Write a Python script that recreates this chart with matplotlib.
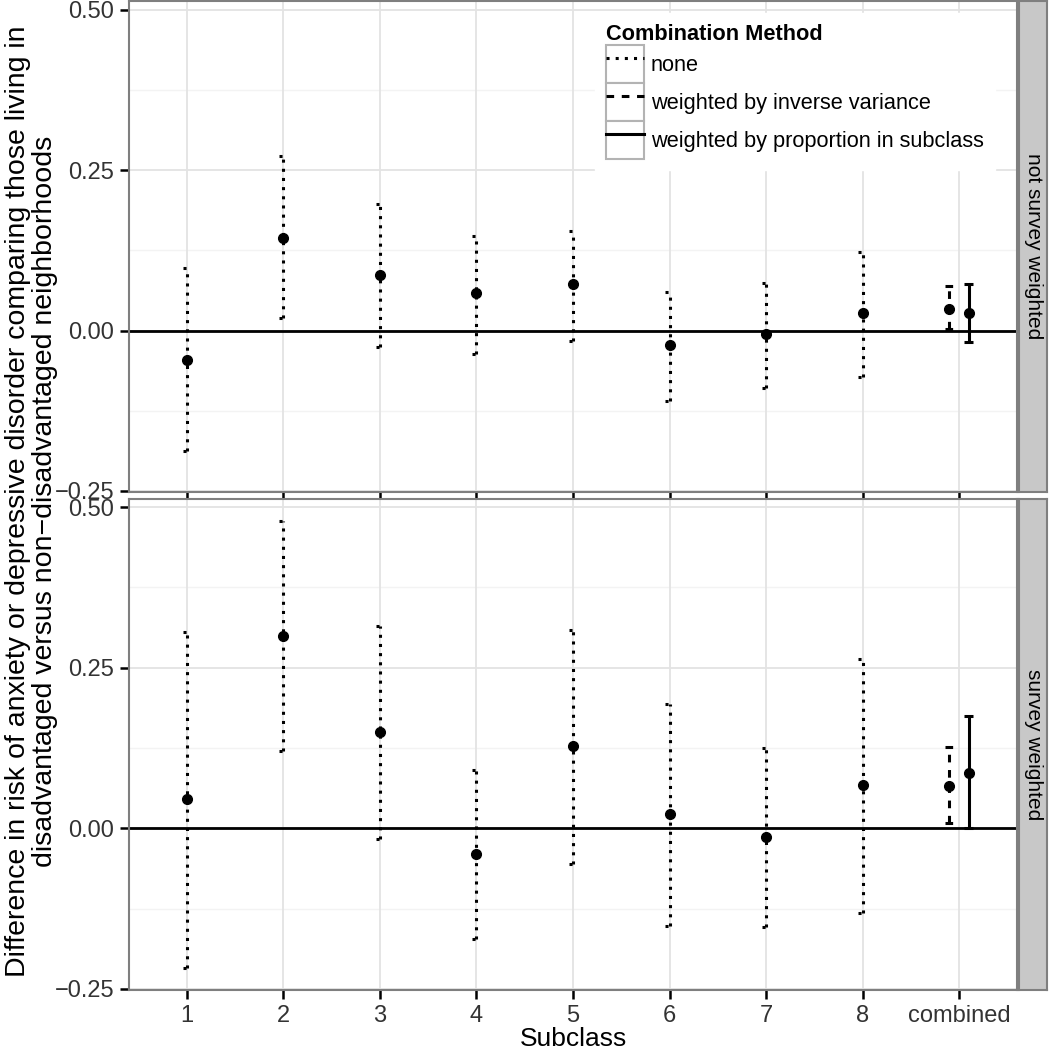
import matplotlib
matplotlib.use("Agg")
import matplotlib.pyplot as plt
from matplotlib.lines import Line2D
from matplotlib.patches import Rectangle
import numpy as np

plt.rcParams['font.family'] = ['Liberation Sans', 'DejaVu Sans']

# categories on the x axis
subclasses = ['1', '2', '3', '4', '5', '6', '7', '8', 'combined']
panels = ['not survey weighted', 'survey weighted']

# per-subclass estimates (no combination), one list per panel
est_none = [[-0.045, 0.144, 0.086, 0.058, 0.072, -0.022, -0.006, 0.027],
            [0.045, 0.300, 0.150, -0.040, 0.128, 0.022, -0.014, 0.067]]
lo_none = [[-0.187, 0.019, -0.025, -0.036, -0.016, -0.109, -0.089, -0.072],
           [-0.218, 0.120, -0.016, -0.172, -0.055, -0.152, -0.154, -0.131]]
hi_none = [[0.097, 0.273, 0.198, 0.148, 0.156, 0.061, 0.075, 0.122],
           [0.306, 0.479, 0.315, 0.090, 0.309, 0.193, 0.125, 0.264]]

# combined estimates
est_ivar = [0.033, 0.066]
lo_ivar = [0.002, 0.008]
hi_ivar = [0.070, 0.126]
est_prop = [0.027, 0.086]
lo_prop = [-0.017, 0.000]
hi_prop = [0.072, 0.175]

methods = ['none', 'weighted by inverse variance', 'weighted by proportion in subclass']
styles = [(0, (1, 2)), (0, (2.5, 2.5)), '-']

yticks = [-0.25, 0.0, 0.25, 0.50]
ylabels = ['\u22120.25', '0.00', '0.25', '0.50']

fig = plt.figure(figsize=(10.5, 10.49), dpi=100)
W, H = 1050, 1049
left, right = 129 / W, 1017 / W
boxes = [(1, 492), (499, 990)]

lw = 2.2
capw = 0.09

def draw_bar(ax, x, est, lo, hi, ls):
    ax.vlines(x, lo, hi, colors='black', linestyles=ls, lw=lw, zorder=3)
    ax.hlines([lo, hi], x - capw / 2, x + capw / 2, colors='black', linestyles=ls, lw=lw, zorder=3)
    ax.plot(x, est, 'o', color='black', ms=7, zorder=4)

axes = []
for p in range(2):
    top_px, bot_px = boxes[p]
    ax = fig.add_axes([left, 1 - bot_px / H, right - left, (bot_px - top_px) / H])
    axes.append(ax)
    xs = np.arange(1, len(subclasses) + 1)
    ax.set_xlim(0.4, 9.6)
    if p == 0:
        ax.set_ylim(-0.2516, 0.514)
    else:
        ax.set_ylim(-0.2516, 0.5125)

    # grid
    for yv in [-0.125, 0.125, 0.375]:
        ax.axhline(yv, color='#f3f3f3', lw=1.0, zorder=0)
    for yv in yticks:
        ax.axhline(yv, color='#e3e3e3', lw=1.3, zorder=0)
    for xv in xs:
        ax.axvline(xv, color='#e3e3e3', lw=1.3, zorder=0)

    ax.axhline(0, color='black', lw=2.0, zorder=2)

    for i in range(8):
        draw_bar(ax, xs[i], est_none[p][i], lo_none[p][i], hi_none[p][i], styles[0])
    draw_bar(ax, xs[8] - 0.1, est_ivar[p], lo_ivar[p], hi_ivar[p], styles[1])
    draw_bar(ax, xs[8] + 0.1, est_prop[p], lo_prop[p], hi_prop[p], styles[2])

    ax.set_yticks(yticks)
    ax.set_yticklabels(ylabels, fontsize=17, color='#333333')
    ax.set_xticks(xs)
    if p == 1:
        ax.set_xticklabels(subclasses, fontsize=17, color='#333333')
    else:
        ax.set_xticklabels([])
        ax.tick_params(axis='x', length=0)
    ax.tick_params(axis='both', direction='out', length=6.5, width=1.8, color='black', pad=4)
    for s in ax.spines.values():
        s.set_color('#7f7f7f')
        s.set_linewidth(1.5)

    # facet strip on the right
    sax = fig.add_axes([1019 / W, 1 - bot_px / H, 28 / W, (bot_px - top_px) / H])
    sax.set_xticks([])
    sax.set_yticks([])
    sax.set_facecolor('#c8c8c8')
    for s in sax.spines.values():
        s.set_color('#7f7f7f')
        s.set_linewidth(1.5)
    sax.text(0.5, 0.5, panels[p], rotation=-90, ha='center', va='center',
             fontsize=15, transform=sax.transAxes)

axes[1].set_xlabel('Subclass', fontsize=19, labelpad=0)
fig.text(0.03, 0.522,
         'Difference in risk of anxiety or depressive disorder comparing those living in\n'
         'disadvantaged versus non\u2212disadvantaged neighborhoods',
         rotation=90, ha='center', va='center', fontsize=20.5, linespacing=1.05)

# legend keys: grey-bordered box with the line style inside
handles = []
for s in styles:
    box = Rectangle((0, 0), 1, 1, facecolor='white', edgecolor='#b3b3b3', lw=1.5)
    line = Line2D([0], [0], color='black', lw=lw, linestyle=s)
    handles.append((box, line))
leg = axes[0].legend(handles, methods, title='Combination Method', loc='upper right',
                     bbox_to_anchor=(0.975, 0.975), borderaxespad=0,
                     fontsize=15.7, title_fontsize=15.7,
                     frameon=True, fancybox=False, handlelength=1.75, handleheight=2.3,
                     handletextpad=0.3, labelspacing=0.0, borderpad=0.5, alignment='left')
leg.get_title().set_fontweight('bold')
leg.get_frame().set_facecolor('white')
leg.get_frame().set_edgecolor('white')
leg.get_frame().set_alpha(1)
leg.set_zorder(5)

fig.savefig('out.png', dpi=100)
